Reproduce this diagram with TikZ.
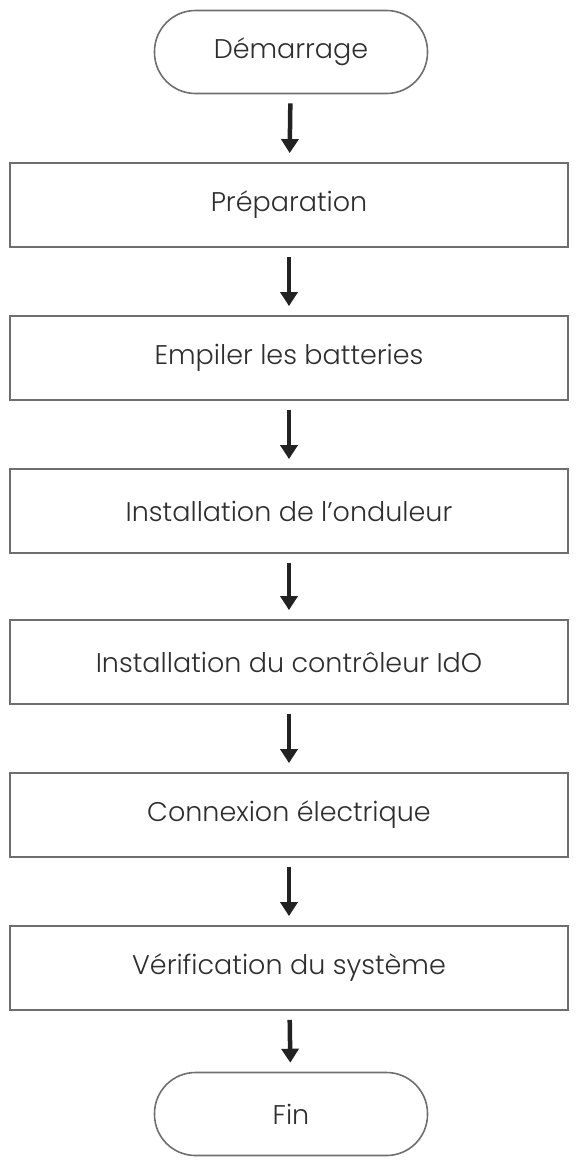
\documentclass[tikz,border=0pt]{standalone}
\usepackage{fontspec}
\setmainfont{Poppins}[UprightFont=* Light]
\usetikzlibrary{arrows.meta}
\definecolor{boxgray}{HTML}{6E6E6E}
\definecolor{textgray}{HTML}{2E2E2E}
\definecolor{arrowgray}{HTML}{222222}
\begin{document}
\begin{tikzpicture}[x=1pt,y=-1pt]
		\begin{scope}[scale=1]
		
		\tikzstyle{myterminal}=[rectangle,
		rounded corners=41pt,
		draw=boxgray,
		line width=1.6pt,
		text=textgray,
		inner sep=0pt,
		minimum width=273pt,
		minimum height=83pt,
		font=\fontsize{27}{32}\selectfont
		]
		\tikzstyle{mystep}=[rectangle,
		draw=boxgray,
		line width=1.8pt,
		text=textgray,
		inner sep=0pt,
		minimum width=558pt,
		minimum height=84pt,
		font=\fontsize{27}{32}\selectfont
		]
		\tikzstyle{myarrow}=[draw=arrowgray,
		line width=4.5pt,
		-{Triangle[width=17pt,length=14pt]},
		shorten <=9pt,
		shorten >=9pt
		]
		
		\useasboundingbox (0,0) rectangle (579,1162);
		
		\coordinate (ps) at (291, 52);
		
		\coordinate (p1) at (289, 205);
		\coordinate (p2) at (289, 358);
		\coordinate (p3) at (289, 511);
		\coordinate (p4) at (289, 662);
		\coordinate (p5) at (289, 815);
		\coordinate (p6) at (289, 968);
		
		\coordinate (pf) at (291, 1114);
		
		
		\node[myterminal] (start) at (ps) {Démarrage};
		\node[mystep] (s1) at (p1) {Préparation};
		\node[mystep] (s2) at (p2) {Empiler les batteries};
		\node[mystep] (s3) at (p3) {Installation de l’onduleur};
		\node[mystep] (s4) at (p4) {Installation du contrôleur IdO};
		\node[mystep] (s5) at (p5) {Connexion électrique};
		\node[mystep] (s6) at (p6) {Vérification du système};
		\node[myterminal] (fin) at (pf) {Fin};
		
		
		\draw[myarrow] (start) -- (s1);
		\draw[myarrow] (s1) -- (s2);
		\draw[myarrow] (s2) -- (s3);
		\draw[myarrow] (s3) -- (s4);
		\draw[myarrow] (s4) -- (s5);
		\draw[myarrow] (s5) -- (s6);
		\draw[myarrow] (s6) -- (fin);
		
		\end{scope}
		\end{tikzpicture}
\end{document}
